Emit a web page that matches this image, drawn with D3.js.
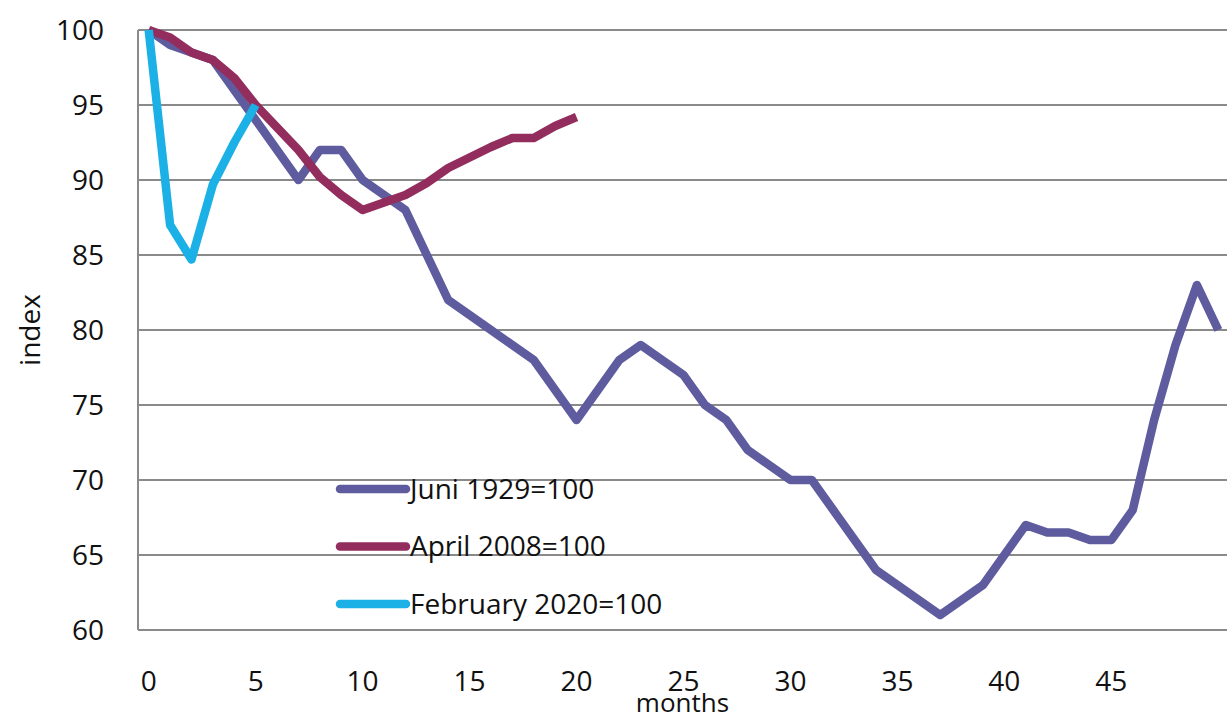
<!DOCTYPE html>
<html>
<head>
<meta charset="utf-8">
<script src="https://cdn.jsdelivr.net/npm/d3@7"></script>
<style>
  body { margin: 0; background: #fff; }
  text { font-family: "Open Sans", sans-serif; fill: #111; }
</style>
</head>
<body>
<div id="chart"></div>
<script>
// months since the peak, index = 100 at the start
const juni1929 = [100, 99, 98.5, 98, 96, 94, 92, 90, 92, 92, 90, 89, 88, 85, 82, 81, 80, 79, 78, 76,
	74, 76, 78, 79, 78, 77, 75, 74, 72, 71, 70, 70, 68, 66, 64, 63, 62, 61, 62, 63,
	65, 67, 66.5, 66.5, 66, 66, 68, 74, 79, 83, 80];
const april2008 = [100, 99.5, 98.5, 98, 96.8, 95, 93.5, 92, 90.2, 89, 88, 88.5, 89, 89.8, 90.8, 91.5,
	92.2, 92.8, 92.8, 93.6, 94.2];
const february2020 = [100, 87, 84.7, 89.7, 92.5, 95];

const seriesNames = ['Juni 1929=100', 'April 2008=100', 'February 2020=100'];
const seriesColors = ['#5e5c9e', '#922d5d', '#1bb0e6'];
const xTicks = [0, 5, 10, 15, 20, 25, 30, 35, 40, 45];
const yTicks = [60, 65, 70, 75, 80, 85, 90, 95, 100];

const width = 1227, height = 718;
const margin = { left: 138, top: 30, right: -2, bottom: 88 };

const svg = d3.select('#chart')
	.append('svg')
	.attr('width', width)
	.attr('height', height);

// category axis: points sit in the middle of each month slot
const x = d3.scaleLinear()
	.domain([-0.5, 50.5])
	.range([margin.left, width - margin.right]);
const y = d3.scaleLinear()
	.domain([60, 100])
	.range([height - margin.bottom, margin.top]);

// gridlines
svg.append('g')
	.selectAll('line')
	.data(yTicks)
	.enter()
	.append('line')
	.attr('x1', margin.left)
	.attr('x2', width)
	.attr('y1', (d) => y(d))
	.attr('y2', (d) => y(d))
	.style('stroke', '#8a8a8a')
	.style('stroke-width', 2);

// left axis line
svg.append('line')
	.attr('x1', margin.left)
	.attr('x2', margin.left)
	.attr('y1', y(100))
	.attr('y2', y(60))
	.style('stroke', '#8a8a8a')
	.style('stroke-width', 2);

// y tick labels
svg.append('g')
	.selectAll('text')
	.data(yTicks)
	.enter()
	.append('text')
	.attr('x', 104)
	.attr('y', (d) => y(d))
	.attr('dy', '0.35em')
	.attr('text-anchor', 'end')
	.style('font-size', '28px')
	.text((d) => d);

// x tick labels
svg.append('g')
	.selectAll('text')
	.data(xTicks)
	.enter()
	.append('text')
	.attr('x', (d) => x(d))
	.attr('y', 691)
	.attr('text-anchor', 'middle')
	.style('font-size', '28px')
	.text((d) => d);

// axis titles
svg.append('text')
	.attr('x', (margin.left + width) / 2)
	.attr('y', 712)
	.attr('text-anchor', 'middle')
	.style('font-size', '26px')
	.text('months');

svg.append('text')
	.attr('transform', 'translate(40,' + (y(80)) + ') rotate(-90)')
	.attr('text-anchor', 'middle')
	.style('font-size', '28px')
	.text('index');

// lines
const line = d3.line()
	.x((d, i) => x(i))
	.y((d) => y(d));

[juni1929, april2008, february2020].forEach((values, k) => {
	svg.append('path')
		.datum(values)
		.attr('d', line)
		.style('fill', 'none')
		.style('stroke', seriesColors[k])
		.style('stroke-width', 8.5)
		.style('stroke-linejoin', 'round');
});

// legend
const legend = svg.append('g')
	.selectAll('g')
	.data(seriesNames)
	.enter()
	.append('g')
	.attr('transform', (d, i) => 'translate(0,' + (489 + i * 57.5) + ')');

legend.append('line')
	.attr('x1', 340)
	.attr('x2', 406)
	.style('stroke', (d, i) => seriesColors[i])
	.style('stroke-width', 8.5)
	.style('stroke-linecap', 'round');

legend.append('text')
	.attr('x', 410)
	.attr('dy', '0.35em')
	.style('font-size', '28px')
	.text((d) => d);
</script>
</body>
</html>
